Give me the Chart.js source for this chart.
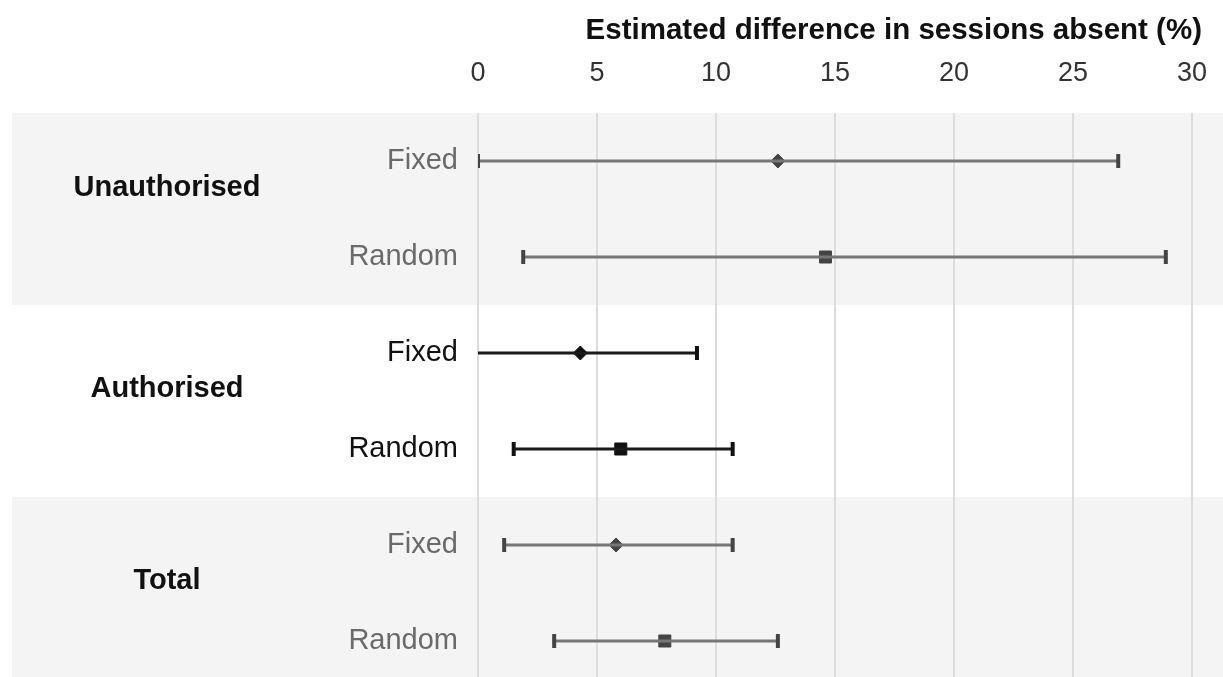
<!DOCTYPE html>
<html>
<head>
<meta charset="utf-8">
<script src="https://cdn.jsdelivr.net/npm/chart.js@4.4.1/dist/chart.umd.min.js"></script>
<style>
  html, body { margin: 0; padding: 0; background: #fff; }
  canvas { display: block; }
</style>
</head>
<body>
<canvas id="forestChart" width="1223" height="677"></canvas>
<script>
// rows, top to bottom
const rowLabels = ['Fixed', 'Random', 'Fixed', 'Random', 'Fixed', 'Random'];
const rowGroup = [0, 0, 1, 1, 2, 2];
const estimates = [12.6, 14.6, 4.3, 6.0, 5.8, 7.85];
const lowerCI = [0.0, 1.9, -0.6, 1.5, 1.1, 3.2];
const upperCI = [26.9, 28.9, 9.2, 10.7, 10.7, 12.6];

// groups
const groupLabels = ['Unauthorised', 'Authorised', 'Total'];
const groupShaded = [true, false, true];
const groupLabelPos = [0.28, 2.38, 4.38];

const xTicks = [0, 5, 10, 15, 20, 25, 30];
const axisTitle = 'Estimated difference in sessions absent (%)';

const FONT = '"Liberation Sans", Arial, Helvetica, sans-serif';
const grayRow = g => g !== 1;
const lineColor = i => grayRow(rowGroup[i]) ? '#767676' : '#1a1a1a';
const markColor = i => grayRow(rowGroup[i]) ? '#444444' : '#111111';
const labelColor = i => grayRow(rowGroup[i]) ? '#6a6a6a' : '#111111';

// one dataset per confidence interval (line + end caps)
const ciDatasets = rowLabels.map((lab, i) => ({
    label: lab + ' CI',
    data: [{ x: lowerCI[i], y: i }, { x: upperCI[i], y: i }],
    showLine: true,
    borderColor: lineColor(i),
    borderWidth: 3,
    pointStyle: 'line',
    pointRotation: 90,
    pointRadius: 7,
    pointBorderWidth: 4,
    pointBorderColor: markColor(i),
    pointBackgroundColor: markColor(i),
    pointHoverRadius: 7
}));

const estimateDataset = {
    label: 'Estimate',
    data: estimates.map((v, i) => ({ x: v, y: i })),
    showLine: false,
    pointStyle: ctx => rowLabels[ctx.dataIndex] === 'Fixed' ? 'rectRot' : 'rect',
    pointRadius: ctx => rowLabels[ctx.dataIndex] === 'Fixed' ? 7 : 8.5,
    backgroundColor: ctx => markColor(ctx.dataIndex),
    borderColor: ctx => markColor(ctx.dataIndex),
    borderWidth: 1
};

const bandsPlugin = {
    id: 'bands',
    beforeDraw(chart) {
        const ctx = chart.ctx;
        const y = chart.scales.y;
        ctx.save();
        ctx.fillStyle = '#f4f4f4';
        groupShaded.forEach((shade, g) => {
            if (!shade) return;
            const rows = rowGroup.map((r, i) => r === g ? i : null).filter(i => i !== null);
            const top = y.getPixelForValue(Math.min(...rows) - 0.5);
            const bottom = y.getPixelForValue(Math.min(Math.max(...rows) + 0.5, y.max));
            ctx.fillRect(12, top, chart.width - 12, bottom - top);
        });
        ctx.restore();
    },
    afterDraw(chart) {
        const ctx = chart.ctx;
        const y = chart.scales.y;
        ctx.save();
        ctx.fillStyle = '#111';
        ctx.font = 'bold 29px ' + FONT;
        ctx.textAlign = 'center';
        ctx.textBaseline = 'middle';
        groupLabels.forEach((lab, g) => {
            ctx.fillText(lab, 167, y.getPixelForValue(groupLabelPos[g]));
        });
        ctx.font = 'bold 29.5px ' + FONT;
        ctx.textAlign = 'right';
        ctx.textBaseline = 'alphabetic';
        ctx.fillText(axisTitle, 1202, 39);
        ctx.restore();
    }
};

new Chart(document.getElementById('forestChart'), {
    type: 'scatter',
    data: { datasets: [...ciDatasets, estimateDataset] },
    plugins: [bandsPlugin],
    options: {
        responsive: false,
        animation: false,
        layout: { autoPadding: false, padding: { right: 31 } },
        plugins: {
            legend: { display: false },
            tooltip: { enabled: false }
        },
        scales: {
            x: {
                type: 'linear',
                position: 'top',
                min: 0,
                max: 30,
                afterBuildTicks: s => { s.ticks = xTicks.map(v => ({ value: v })); },
                afterFit: s => { s.height = 113; s.paddingLeft = 0; s.paddingRight = 0; },
                grid: { color: '#dcdcdc', lineWidth: 2, drawTicks: false },
                border: { display: false },
                ticks: {
                    color: '#333',
                    font: { family: FONT, size: 27 },
                    padding: 23
                }
            },
            y: {
                type: 'linear',
                reverse: true,
                min: -0.5,
                max: 5.375,
                afterBuildTicks: s => { s.ticks = rowLabels.map((l, i) => ({ value: i })); },
                afterFit: s => { s.width = 478; s.paddingTop = 0; s.paddingBottom = 0; },
                grid: { display: false, drawTicks: false },
                border: { display: false },
                ticks: {
                    callback: (v, i) => rowLabels[i],
                    color: ctx => labelColor(ctx.index),
                    font: { family: FONT, size: 29 },
                    padding: 20
                }
            }
        }
    }
});
</script>
</body>
</html>
